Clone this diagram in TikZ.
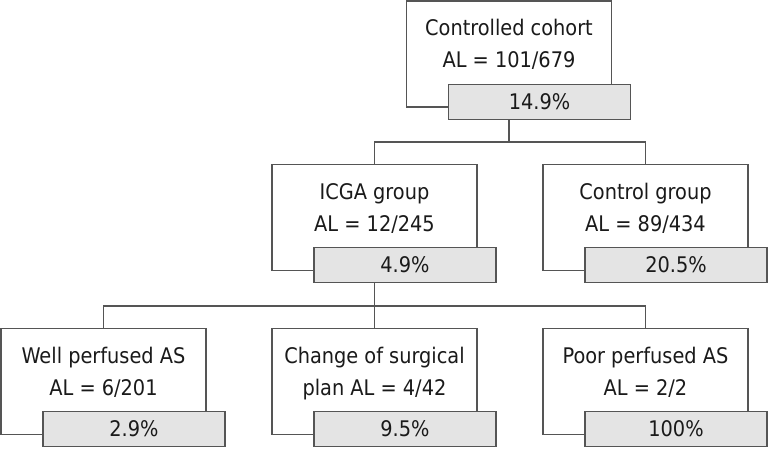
\documentclass[tikz,border=0pt]{standalone}
\usepackage{fontspec}
\setmainfont{DejaVu Sans Condensed}
\usetikzlibrary{positioning,calc}
\definecolor{cLine}{HTML}{555555}
\definecolor{cInk}{HTML}{1A1A1A}
\definecolor{cShade}{HTML}{E4E4E4}
\tikzset{
  cell/.style={draw=cLine,line width=1.1pt,fill=white,minimum width=205pt,minimum height=106pt,inner sep=0pt},
  txt/.style ={align=center,inner sep=0pt,text=cInk,font=\fontsize{21.5}{32}\selectfont},
  pct/.style ={draw=cLine,line width=1.1pt,fill=cShade,minimum width=182pt,minimum height=35pt,
               inner sep=0pt,text=cInk,font=\fontsize{21.5}{24}\selectfont},
  link/.style={draw=cLine,line width=1.1pt},
}

\begin{document}
\begin{tikzpicture}[x=1pt,y=1pt]
\useasboundingbox (0,0) rectangle (771,450);
% white boxes
\node[cell] (c0)   at (509,396)     {};
\node[cell] (icga) at (374.5,232.5) {};
\node[cell] (ctrl) at (645.5,232.5) {};
\node[cell] (well) at (103.5,68.5)  {};
\node[cell] (plan) at (374.5,68.5)  {};
\node[cell] (poor) at (645.5,68.5)  {};
% texts
\node[txt,below=19pt of c0.north]   (t0) {Controlled cohort\\AL = 101/679};
\node[txt,below=19pt of icga.north] (t1) {ICGA group\\AL = 12/245};
\node[txt,below=19pt of ctrl.north] (t2) {Control group\\AL = 89/434};
\node[txt,below=19pt of well.north] (t3) {Well perfused AS\\AL = 6/201};
\node[txt,below=19pt of plan.north] (t4) {Change of surgical\\plan AL = 4/42};
\node[txt,below=19pt of poor.north] (t5) {Poor perfused AS\\AL = 2/2};
% rates
\node[pct,anchor=north west] (p0) at ([shift={(42pt,24pt)}]c0.south west)   {14.9\%};
\node[pct,anchor=north west] (p1) at ([shift={(42pt,24pt)}]icga.south west) {4.9\%};
\node[pct,anchor=north west] (p2) at ([shift={(42pt,24pt)}]ctrl.south west) {20.5\%};
\node[pct,anchor=north west] (p3) at ([shift={(42pt,24pt)}]well.south west) {2.9\%};
\node[pct,anchor=north west] (p4) at ([shift={(42pt,24pt)}]plan.south west) {9.5\%};
\node[pct,anchor=north west] (p5) at ([shift={(42pt,24pt)}]poor.south west) {100\%};
% connectors
\coordinate (j0) at (509,308);
\coordinate (j1) at (374.5,144);
\draw[link] (c0.center |- p0.south) -- (j0);
\draw[link] (icga.north) |- (j0) -| (ctrl.north);
\draw[link] (icga.center |- p1.south) -- (j1);
\draw[link] (well.north) |- (j1) -| (poor.north);
\draw[link] (j1) -- (plan.north);
\end{tikzpicture}
\end{document}
